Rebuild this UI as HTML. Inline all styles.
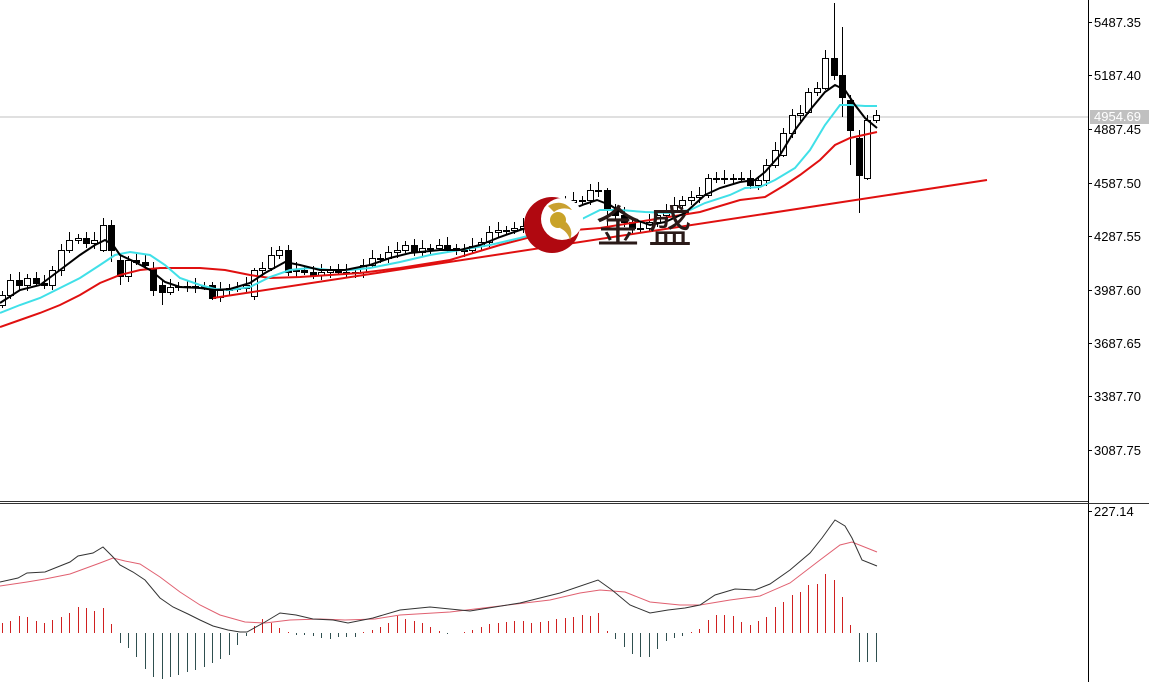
<!DOCTYPE html>
<html><head><meta charset="utf-8"><style>
html,body{margin:0;padding:0;background:#fff;width:1149px;height:682px;overflow:hidden}
svg{display:block}
text{font-family:"Liberation Sans","DejaVu Sans",sans-serif;font-size:13px;fill:#000}
</style></head><body>
<svg id="s" width="1149" height="682" xmlns="http://www.w3.org/2000/svg">
<rect width="1149" height="682" fill="#fff"/>
<line x1="0" y1="117" x2="1088" y2="117" stroke="#c0c0c0" stroke-width="1"/>
<g id="g"></g>
<polyline fill="none" stroke="#e01010" stroke-width="2" points="213,298 987,180"/>
<!-- logo -->
<circle cx="552" cy="225" r="28" fill="#b00810"/>
<circle cx="562" cy="219" r="21" fill="#fff"/>
<path d="M548 206 q14 -8 24 4 q-10 -4 -18 2z" fill="#c9a030"/>
<path d="M566 222 q8 8 4 18 q-2 -8 -10 -12z" fill="#c9a030"/>
<circle cx="558" cy="220" r="8" fill="#c9a328"/>
<text x="596" y="242" style="font-family:'Noto Sans CJK SC',sans-serif;font-size:44px;fill:#2a1a18">金</text>
<text x="648" y="242" style="font-family:'Noto Sans CJK SC',sans-serif;font-size:44px;fill:#2a1a18">盛</text>
<!-- axes -->
<line x1="1088.5" y1="0" x2="1088.5" y2="682" stroke="#000"/>
<line x1="0" y1="501.5" x2="1088" y2="501.5" stroke="#333"/>
<line x1="0" y1="503.5" x2="1149" y2="503.5" stroke="#333"/>
<g id="ax"></g>
<rect x="1090" y="110" width="59" height="14" fill="#c0c0c0"/>
<text x="1094" y="121" style="fill:#fff">4954.69</text>
</svg>
<script>
(function(){
var g=document.getElementById('g'),ax=document.getElementById('ax'),NS='http://www.w3.org/2000/svg';
function el(p,t,a){var e=document.createElementNS(NS,t);for(var k in a)e.setAttribute(k,a[k]);p.appendChild(e);return e;}
var labs=[[22,'5487.35'],[75,'5187.40'],[129,'4887.45'],[183,'4587.50'],[236,'4287.55'],[290,'3987.60'],[343,'3687.65'],[396,'3387.70'],[450,'3087.75'],[511,'227.14']];
labs.forEach(function(l){el(ax,'line',{x1:1088,y1:l[0]+.5,x2:1092,y2:l[0]+.5,stroke:'#000'});var t=el(ax,'text',{x:1094,y:l[0]+5});t.textContent=l[1];});
var c=[295,280,285,278,283,285,270,250,240,238,243,240,225,250,276,260,262,265,290,292,287,286,286,286,286,297,290,288,288,285,270,268,255,250,270,270,272,275,272,270,272,272,272,265,258,258,252,250,245,252,248,248,245,248,250,250,246,242,232,230,230,228,226,225,222,210,205,202,200,200,190,190,210,215,222,228,228,222,215,210,205,200,197,195,178,178,178,178,178,185,180,165,150,133,115,113,92,88,60,75,97,130,175,120,117];
var ov={12:[250,225,218,252],13:[225,250,220,262],14:[260,276,255,285],18:[268,290,262,296],19:[285,292,280,305],25:[285,298,282,300],30:[296,270,268,300],34:[250,272,245,276],72:[190,210,188,230],98:[88,58,50,90],99:[58,75,3,80],100:[75,97,27,117],101:[100,130,95,165],102:[138,175,130,213],103:[178,120,115,180],104:[120,115,110,123],93:[155,133,128,157],96:[112,92,88,114]};
for(var i=0;i<c.length;i++){
 var x=Math.round(2+8.4*i),o,cl,h,l;
 if(ov[i]){o=ov[i][0];cl=ov[i][1];h=ov[i][2];l=ov[i][3];}
 else{o=i?c[i-1]:305;cl=c[i];if(Math.abs(o-cl)<2){o=cl+1;}h=Math.min(o,cl)-4-(i%3)*2;l=Math.max(o,cl)+3+(i%4);}
 el(g,'line',{x1:x+.5,y1:h,x2:x+.5,y2:l,stroke:'#000'});
 var bt=Math.min(o,cl),ht=Math.max(Math.abs(o-cl),1);
 el(g,'rect',{x:x-2.5,y:bt+.5,width:6,height:ht,fill:cl<o?'#fff':'#000',stroke:'#000','stroke-width':1});
}
function pl(p,col,w){el(g,'polyline',{points:p,fill:'none',stroke:col,'stroke-width':w});}
pl("0,327 20,320 40,313 60,305 80,295 100,283 120,275 140,270 160,268 200,268 225,270 250,275 270,278 300,277 330,275 360,273 400,268 450,260 500,245 550,232 600,228 650,220 700,212 740,200 765,197 785,185 800,175 820,160 835,145 850,138 877,132",'#e01010',2);
pl("0,313 20,305 40,298 60,288 80,278 100,265 115,255 130,252 150,255 165,265 180,278 200,285 215,289 230,290 250,287 270,277 290,270 310,268 330,270 350,270 370,268 400,262 430,255 460,250 490,245 520,238 550,230 580,220 600,210 620,210 645,212 670,213 690,210 705,203 730,195 745,188 760,187 775,180 795,168 810,150 825,125 840,105 850,105 865,106 877,106",'#40e0e8',2);
pl("0,303 20,290 40,285 60,270 80,255 95,245 105,240 113,245 120,255 135,262 150,270 165,282 180,287 200,288 215,290 230,289 250,283 265,273 285,262 300,265 320,270 345,270 370,265 390,258 410,253 440,250 460,250 480,245 500,237 520,230 545,222 565,212 585,204 597,200 610,205 630,218 650,225 665,222 685,213 705,195 720,188 740,182 755,180 765,172 780,155 795,130 810,110 825,92 835,85 845,90 855,105 865,118 877,128",'#000',2);
var hv=[10,12,17,16,12,10,13,16,20,26,25,22,25,9,-10,-15,-24,-36,-44,-46,-44,-42,-39,-37,-34,-30,-26,-22,-12,-3,7,14,10,5,1,-2,-2,-3,-5,-6,-4,-4,-4,1,3,6,10,17,14,12,10,6,2,-1,0,1,3,6,9,10,11,12,12,10,11,12,14,15,16,18,17,20,2,-6,-14,-21,-24,-24,-16,-8,-5,-3,1,4,13,18,18,17,11,8,12,16,26,31,38,41,48,49,59,53,36,8,-29,-29,-29];
for(i=0;i<hv.length;i++){var xx=Math.round(2+8.4*i)+.5,v=hv[i];if(!v)continue;
 el(g,'line',{x1:xx,y1:633,x2:xx,y2:633-v,stroke:v>0?'#d02020':'#2f4f4f','stroke-width':1});}
pl("0,586 27,582 45,579 70,574 100,563 113,558 125,561 140,564 160,577 180,592 200,605 220,615 245,622 265,623 290,620 320,619 345,620 375,619 400,615 450,612 500,606 550,600 580,593 600,590 625,592 650,602 680,605 700,605 730,600 760,596 790,583 820,560 840,545 852,542 877,552",'#e06070',1);
pl("0,582 18,578 27,573 45,572 60,566 70,562 78,556 93,553 103,547 113,557 120,565 133,572 145,580 160,598 173,607 188,614 200,620 213,626 228,630 240,632 247,632 265,622 280,613 296,615 313,619 333,620 348,623 373,618 400,610 430,607 470,611 520,603 560,593 598,580 612,590 630,605 650,613 668,610 685,608 700,605 715,595 735,589 755,590 770,584 790,570 810,553 822,538 835,520 845,526 852,538 862,560 877,566",'#333',1);
})();
</script>
</body></html>
